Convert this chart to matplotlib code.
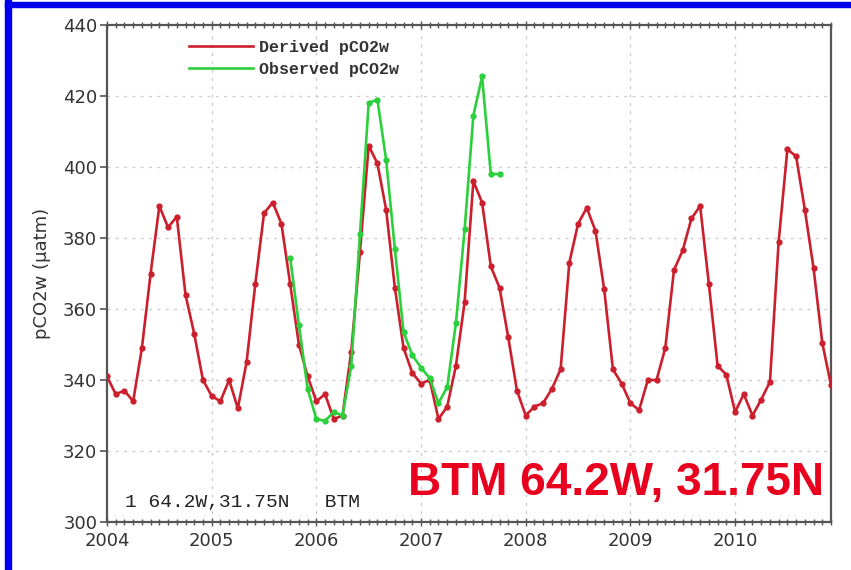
import numpy as np
import matplotlib
matplotlib.use('Agg')
import matplotlib.pyplot as plt
from matplotlib.patches import Rectangle
from matplotlib.ticker import MultipleLocator

# monthly values, Jan 2004 .. Dec 2010
derived = [341, 336, 337, 334, 349, 370, 389, 383, 386, 364, 353, 340,
           335.5, 334, 340, 332, 345, 367, 387, 390, 384, 367, 350, 341,
           334, 336, 329, 330, 348, 376, 406, 401, 388, 366, 349, 342,
           339, 340, 329, 332.5, 344, 362, 396, 390, 372, 366, 352, 337,
           330, 332.5, 333.5, 337.5, 343, 373, 384, 388.5, 382, 365.5, 343, 339,
           333.5, 331.5, 340, 340, 349, 371, 376.5, 385.5, 389, 367, 344, 341.5,
           331, 336, 330, 334.5, 339.5, 379, 405, 403, 388, 371.5, 350.5, 338.5]
# observed, Oct 2005 .. Oct 2007
observed = [374.5, 355.5, 337.5, 329, 328.5, 331, 330, 344, 381, 418, 419, 402,
            377, 353.5, 347, 343.5, 340.5, 333.5, 338, 356, 382.5, 414.5, 425.5, 398, 398]
obs_start = 21

years = [2004, 2005, 2006, 2007, 2008, 2009, 2010]
yticks = [300, 320, 340, 360, 380, 400, 420, 440]

t = 2004 + np.arange(len(derived)) / 12.0
t_obs = 2004 + (obs_start + np.arange(len(observed))) / 12.0

red = '#cc1f2d'
green = '#2ccf3c'
axcol = '#555555'

fig = plt.figure(figsize=(8.51, 5.70), dpi=100)
ax = fig.add_axes([107/851, 1-522/570, (831-107)/851, (522-25)/570])

ax.plot(t, derived, color=red, lw=1.9, marker='o', ms=3.5, label='Derived pCO2w', zorder=3)
ax.plot(t_obs, observed, color=green, lw=1.9, marker='o', ms=3.5, label='Observed pCO2w', zorder=4)

ax.set_xlim(2004, 2004 + 83/12)
ax.set_ylim(300, 440)
ax.set_xticks(years)
ax.set_yticks(yticks)
ax.xaxis.set_minor_locator(MultipleLocator(1/12))
ax.tick_params(axis='x', which='both', direction='inout', top=True, colors=axcol,
               labelcolor='#333333', labelsize=13, pad=4)
ax.tick_params(axis='x', which='major', length=6, width=1)
ax.tick_params(axis='x', which='minor', length=4, width=1)
ax.tick_params(axis='y', which='major', direction='out', length=5, width=1.2,
               colors=axcol, labelcolor='#333333', labelsize=13, pad=2)
for s in ax.spines.values():
    s.set_color(axcol)
    s.set_linewidth(1.6)

for y in yticks[1:-1]:
    ax.axhline(y, color='#cccccc', lw=1, ls=(0, (2, 4)), zorder=1)
for x in years[1:]:
    ax.axvline(x, color='#cccccc', lw=1, ls=(0, (2, 4)), zorder=1)

ax.set_ylabel('pCO2w (\u03bcatm)', fontsize=13, color='#333333', labelpad=9)

leg = ax.legend(loc='upper left', bbox_to_anchor=(0.093, 1.0), frameon=False,
                prop={'family': 'Liberation Mono', 'weight': 'bold', 'size': 12},
                handlelength=3.8, handletextpad=0.4, labelspacing=0.4,
                borderaxespad=0.5)
for h in leg.legend_handles:
    h.set_marker('')
for txt in leg.get_texts():
    txt.set_color('#333333')

ax.text(2004.17, 304.2, '1 64.2W,31.75N   BTM', va='baseline', fontsize=14,
        family='Liberation Mono', color='#222222')
ax.text(0.99, 0.054, 'BTM 64.2W, 31.75N', transform=ax.transAxes, ha='right',
        va='baseline', fontsize=33, weight='bold', family='Liberation Sans',
        color='#e8001e')

# blue frame, left and top
fig.add_artist(Rectangle((5/851, 0), 6/851, 1, transform=fig.transFigure,
                         color='#0000ee', zorder=10))
fig.add_artist(Rectangle((5/851, 1-7/570), 1, 5/570, transform=fig.transFigure,
                         color='#0000ee', zorder=10))

fig.savefig('out.png', dpi=100)
